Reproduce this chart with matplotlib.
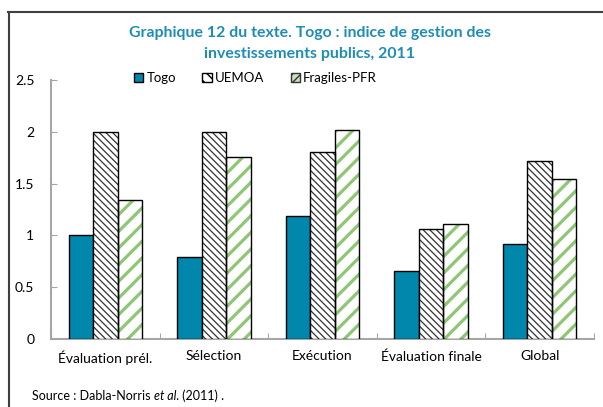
import matplotlib
matplotlib.use("Agg")
import matplotlib.pyplot as plt
import numpy as np
from matplotlib.patches import Patch
from matplotlib.lines import Line2D

plt.rcParams['font.family'] = ['Lato', 'DejaVu Sans']

# data
categories = ["Évaluation prél.", "Sélection", "Exécution", "Évaluation finale", "Global"]
togo = [1.00, 0.79, 1.19, 0.66, 0.92]
uemoa = [2.00, 2.00, 1.81, 1.06, 1.72]
fragiles = [1.34, 1.76, 2.02, 1.11, 1.55]
series_names = ["Togo", "UEMOA", "Fragiles-PFR"]

blue = "#0087AB"
green = "#8DC774"
title_col = "#1E8DB5"

fig = plt.figure(figsize=(6.03, 4.07), dpi=100)
ax = fig.add_axes([0.0846, 0.167, 0.9004, 0.636])

x = np.arange(len(categories))
w = 0.225

ax.bar(x - w, togo, w, color=blue, edgecolor="black", linewidth=1, zorder=3)

with plt.rc_context({'hatch.linewidth': 0.9}):
    ax.bar(x, uemoa, w, color="white", edgecolor="#333333", hatch="\\\\\\\\\\", linewidth=0, zorder=3)
ax.bar(x, uemoa, w, color="none", edgecolor="black", linewidth=1, zorder=4)

with plt.rc_context({'hatch.linewidth': 2.3}):
    ax.bar(x + w, fragiles, w, color="white", edgecolor=green, hatch="//", linewidth=0, zorder=3)
ax.bar(x + w, fragiles, w, color="none", edgecolor="black", linewidth=1, zorder=4)

ax.set_xlim(-0.5, len(categories) - 0.5)
ax.set_ylim(0, 2.5)
ax.set_yticks([0, 0.5, 1, 1.5, 2, 2.5])
ax.set_yticklabels(["0", "0.5", "1", "1.5", "2", "2.5"], fontsize=10)
ax.set_xticks(np.arange(len(categories) + 1) - 0.5)
ax.set_xticklabels([])
ax.set_xticks(x, minor=True)
ax.set_xticklabels(categories, minor=True, fontsize=10)
ax.tick_params(axis='x', which='minor', length=0, pad=8)
ax.tick_params(axis='both', which='major', direction='in', length=4, color="#A6A6A6")
ax.tick_params(axis='y', pad=12)
for s in ["top", "right"]:
    ax.spines[s].set_visible(False)
for s in ["left", "bottom"]:
    ax.spines[s].set_color("#A6A6A6")
    ax.spines[s].set_linewidth(1.5)

fig.text(0.514, 0.919, "Graphique 12 du texte. Togo : indice de gestion des",
         ha="center", va="center", fontsize=11.4, fontweight="bold", color=title_col)
fig.text(0.514, 0.867, "investissements publics, 2011",
         ha="center", va="center", fontsize=11.4, fontweight="bold", color=title_col)

handles = [Patch(facecolor=blue, edgecolor="black"),
           Patch(facecolor="white", edgecolor="black", hatch="\\\\\\"),
           Patch(facecolor="#C9E4BC", edgecolor="#333333", hatch="////")]
fig.legend(handles, series_names, loc="center left", bbox_to_anchor=(0.222, 0.808), ncol=3,
           frameon=False, fontsize=9.5, handlelength=0.7, handleheight=0.7,
           handletextpad=0.25, columnspacing=2.0, borderpad=0, borderaxespad=0)

t1 = fig.text(0.053, 0.018, "Source : Dabla-Norris ", fontsize=9)
t2 = ax.annotate("et al.", xy=(1, 0), xycoords=t1, va="bottom", fontsize=9, style="italic")
ax.annotate(" (2011) .", xy=(1, 0), xycoords=t2, va="bottom", fontsize=9)

fig.add_artist(Line2D([0.014, 1.0], [0.97, 0.97], color="#404040", linewidth=1.5))
fig.add_artist(Line2D([0.015, 0.015], [0.0, 0.97], color="#404040", linewidth=1.5))

fig.savefig("out.png", dpi=100)
